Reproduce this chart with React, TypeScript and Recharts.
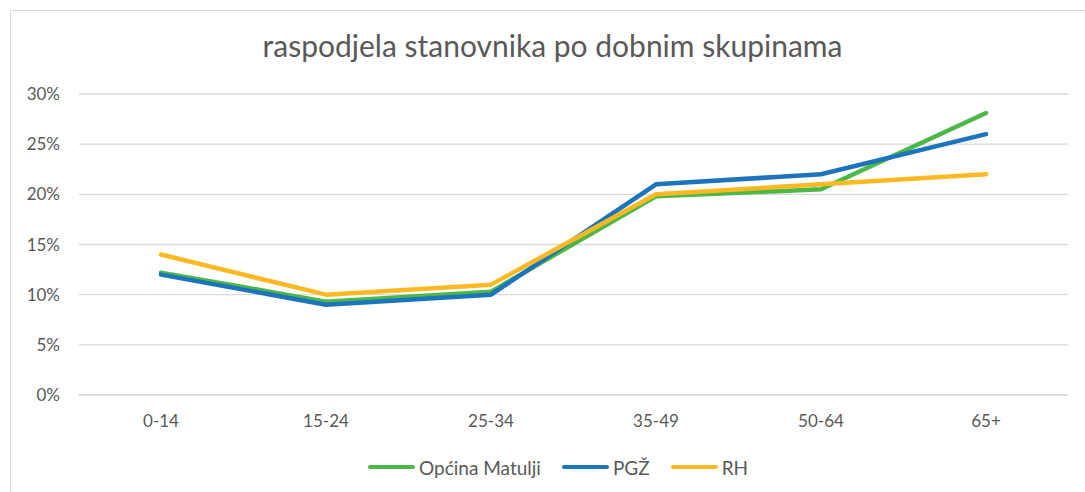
import { CartesianGrid, Line, LineChart, XAxis, YAxis } from 'recharts';

const categories = ['0-14', '15-24', '25-34', '35-49', '50-64', '65+'];
const opcinaMatulji = [12.2, 9.3, 10.3, 19.8, 20.5, 28.1];
const pgz = [12.0, 9.0, 10.0, 21.0, 22.0, 26.0];
const rh = [14.0, 10.0, 11.0, 20.0, 21.0, 22.0];
const yTicks = [0, 5, 10, 15, 20, 25, 30];

const series = [
  { key: 'matulji', name: 'Općina Matulji', color: '#4CB848' },
  { key: 'pgz', name: 'PGŽ', color: '#1C75BC' },
  { key: 'rh', name: 'RH', color: '#FDB924' },
];

const data = categories.map((name, i) => ({
  name,
  matulji: opcinaMatulji[i],
  pgz: pgz[i],
  rh: rh[i],
}));

const font = 'Lato, "Noto Sans", sans-serif';
const textColor = '#595959';

export default function App() {
  return (
    <div
      style={{
        position: 'fixed',
        left: 10,
        top: 10,
        width: 1080,
        height: 490,
        border: '1px solid #d9d9d9',
        boxSizing: 'border-box',
        background: '#fff',
        fontFamily: font,
      }}
    >
      <div
        style={{
          position: 'absolute',
          top: 19,
          left: 0,
          width: 1083,
          textAlign: 'center',
          fontSize: 30,
          lineHeight: '30px',
          color: textColor,
        }}
      >
        raspodjela stanovnika po dobnim skupinama
      </div>
      <LineChart
        width={1075}
        height={482}
        data={data}
        margin={{ top: 84, right: 17, bottom: 67, left: 0 }}
        style={{ position: 'absolute', left: -1, top: -1 }}
      >
        <CartesianGrid vertical={false} stroke="#d9d9d9" strokeWidth={1.3} />
        <XAxis
          dataKey="name"
          height={30}
          padding={{ left: 82, right: 82 }}
          axisLine={{ stroke: '#d9d9d9', strokeWidth: 1.3 }}
          tickLine={false}
          tickSize={0}
          tickMargin={20}
          tick={{ fill: textColor, fontSize: 17, fontFamily: font }}
        />
        <YAxis
          width={69}
          domain={[0, 30]}
          ticks={yTicks}
          axisLine={false}
          tickLine={false}
          tickSize={0}
          tickMargin={19}
          tickFormatter={(v) => `${v}%`}
          tick={{ fill: textColor, fontSize: 17, fontFamily: font }}
        />
        {series.map((s) => (
          <Line
            key={s.key}
            type="linear"
            dataKey={s.key}
            name={s.name}
            stroke={s.color}
            strokeWidth={4.5}
            strokeLinecap="round"
            strokeLinejoin="round"
            dot={false}
            activeDot={false}
            isAnimationActive={false}
          />
        ))}
      </LineChart>
      <div
        style={{
          position: 'absolute',
          top: 446,
          left: 357,
          display: 'flex',
          alignItems: 'center',
          height: 20,
          fontSize: 19,
          color: textColor,
        }}
      >
        {series.map((s, i) => (
          <div
            key={s.key}
            style={{ display: 'flex', alignItems: 'center', marginLeft: i === 0 ? 0 : 21 }}
          >
            <span
              style={{
                display: 'inline-block',
                width: 47,
                height: 4.5,
                borderRadius: 3,
                background: s.color,
                marginRight: 4,
              }}
            />
            <span>{s.name}</span>
          </div>
        ))}
      </div>
    </div>
  );
}
